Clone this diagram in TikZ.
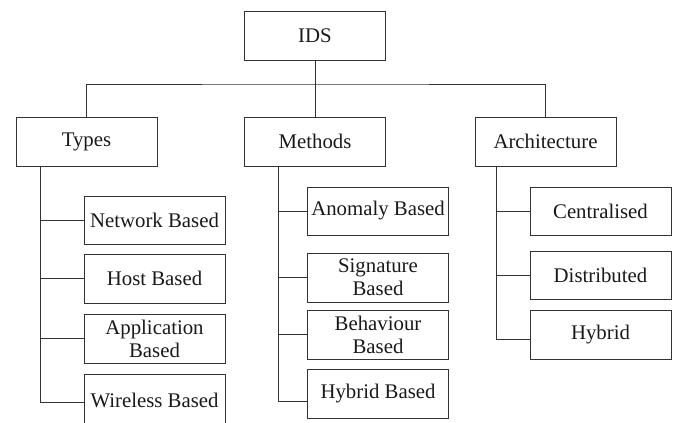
\documentclass[tikz,border=0pt]{standalone}
\usepackage{fontspec}
\setmainfont{Liberation Serif}
\newfontfamily\boxfont{Liberation Serif}
\usetikzlibrary{calc}

\begin{document}
\begin{tikzpicture}[x=1pt,y=-1pt,line width=1pt,draw=black!80]
\path [use as bounding box] (0,0) rectangle (673,423);
\tikzstyle{every node} = [draw=black!80, text=black!90, align=center, inner sep=0pt, minimum width=141pt, minimum height=49pt, font=\boxfont\fontsize{20.8}{23}\selectfont]
\coordinate (bus) at (315,84);
\coordinate (tx) at (40,0);
\coordinate (mx) at (278,0);
\coordinate (ax) at (496,0);
% top level
\node (ids) at (315,35.5) {IDS};
\node (types) at (86.5,141.5) {Types};
\node (meth) at (315,141.5) {Methods};
\node (arch) at (545.5,141.5) {Architecture};
% types
\node[minimum height=48pt] (net) at (154.5,220) {Network Based};
\node (host) at (154.5,278.5) {Host Based};
\node (app) at (154.5,338.5) {Application\\Based};
\node[minimum height=52pt] (wir) at (154.5,400) {Wireless Based};
% methods
\node[minimum height=48pt] (anom) at (378,211) {Anomaly Based};
\node (sig) at (378,277.5) {Signature\\Based};
\node (beh) at (378,334.5) {Behaviour\\Based};
\node (hybb) at (378,393.5) {Hybrid Based};
% architecture
\node[minimum height=48pt] (cent) at (600.5,211) {Centralised};
\node[minimum height=48pt] (dist) at (600.5,275) {Distributed};
\node (hyb) at (600.5,334.5) {Hybrid};
% connectors
\draw (ids) -- (meth);
\draw (types.north) |- (bus) -| (arch.north);
\draw (types.south -| tx) |- ([yshift=-2pt]wir.west);
\foreach \n in {net,host,app} \draw (tx |- \n.west) -- (\n.west);
\draw (meth.south -| mx) |- ([yshift=-8pt]hybb.west);
\foreach \n in {anom,sig,beh} \draw (mx |- \n.west) -- (\n.west);
\draw (arch.south -| ax) |- ([yshift=-4.5pt]hyb.west);
\foreach \n in {cent,dist} \draw (ax |- \n.west) -- (\n.west);
\end{tikzpicture}
\end{document}
